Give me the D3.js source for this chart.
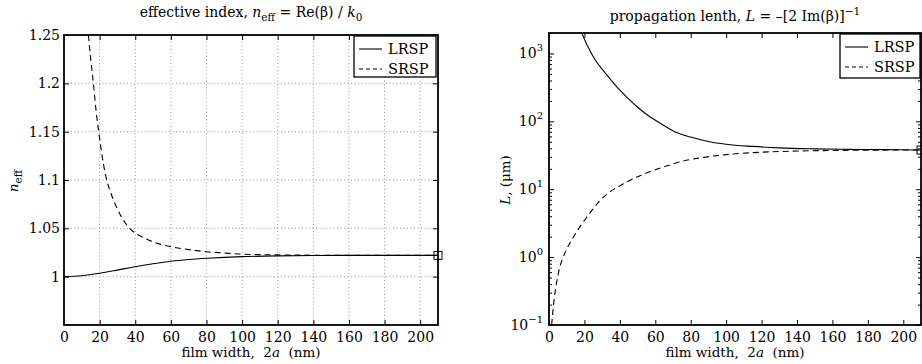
<!DOCTYPE html>
<html><head><meta charset="utf-8">
<script src="https://cdn.jsdelivr.net/npm/d3@7"></script>
<style>
body{margin:0;background:#fff;}
text{font-family:"DejaVu Serif",serif;fill:#000;}
</style></head>
<body><svg id="c" width="922" height="364"></svg>
<script>
// ---- data ----
const xTicks = [0,20,40,60,80,100,120,140,160,180,200];
const nTicks = [1,1.05,1.1,1.15,1.2,1.25];
const nTickLabels = ["1","1.05","1.1","1.15","1.2","1.25"];
const lTicks = [0.1,1,10,100,1000];
const lTickExp = ["\u22121","0","1","2","3"];
const seriesNames = ["LRSP","SRSP"];

// effective index
const xLRSPn = [0,10,20,30,40,50,60,70,80,90,100,120,140,160,180,210];
const nLRSP  = [1.0,1.001,1.0035,1.0068,1.0103,1.0133,1.0159,1.0177,1.019,1.02,1.0207,1.0215,1.0219,1.022,1.022,1.022];
const xSRSPn = [13.7,15,16.5,18,20,22,24,27,30,35,40,45,50,60,70,80,90,100,120,140,160,180,210];
const nSRSP  = [1.25,1.225,1.2,1.172,1.143,1.118,1.1,1.083,1.07,1.054,1.045,1.04,1.036,1.031,1.028,1.0258,1.0245,1.0233,1.0225,1.0222,1.022,1.022,1.022];

// propagation length (um)
const xLRSPl = [18.5,22,26,30,35,40,45,50,56,63,71,80,90,100,115,130,150,170,190,210];
const lLRSP  = [2000,1253,809,586,406,287,213,161,122,92.9,70.5,58.6,50.5,46.0,42.7,40.6,39.3,38.6,38.3,37.8];
const xSRSPl = [1.5,2,3,4,5,6,8,10,13,16,20,24,29,36,42,48,56,65,75,85,100,120,140,160,185,210];
const lSRSP  = [0.1,0.141,0.251,0.38,0.525,0.692,1.0,1.318,1.82,2.455,3.467,4.786,6.918,9.772,12.02,14.45,17.78,21.38,25.7,28.84,32.36,35.08,36.48,37.24,37.67,37.84];

const endMarkN = [210,1.022];
const endMarkL = [210,37.8];

// ---- drawing ----
const svg = d3.select("#c");
const FS = 14;

function panel(opt){
  const g = svg.append("g");
  const {x0,x1,y0,y1,xs,ys} = opt;
  const id = opt.id;
  g.append("clipPath").attr("id",id).append("rect")
    .attr("x",x0).attr("y",y0).attr("width",x1-x0).attr("height",y1-y0);
  if(opt.grid){
    const gg = g.append("g").attr("stroke","#999").attr("stroke-width",1).attr("stroke-dasharray","1,2.5");
    xTicks.filter(t=>t>0).forEach(t=>gg.append("line").attr("x1",xs(t)).attr("x2",xs(t)).attr("y1",y0).attr("y2",y1));
    nTicks.filter(t=>t<1.25).forEach(t=>gg.append("line").attr("x1",x0).attr("x2",x1).attr("y1",ys(t)).attr("y2",ys(t)));
  }
  const xb = d3.axisBottom(xs).tickValues(xTicks).tickSize(-5).tickPadding(7).tickFormat(d3.format("d"));
  const xt = d3.axisTop(xs).tickValues(xTicks).tickSize(-5).tickFormat("");
  g.append("g").attr("transform",`translate(0,${y1})`).call(xb);
  g.append("g").attr("transform",`translate(0,${y0})`).call(xt);
  opt.yAxes(g);
  g.selectAll(".domain").remove();
  g.selectAll(".tick line").attr("stroke","#000").attr("stroke-width",1);
  g.selectAll(".tick text").attr("font-size",FS).attr("font-family","DejaVu Serif").attr("fill","#000");
  const cg = g.append("g").attr("clip-path",`url(#${id})`);
  opt.series.forEach(s=>{
    const line = d3.line().x(d=>xs(d[0])).y(d=>ys(d[1])).curve(d3.curveMonotoneX);
    cg.append("path").datum(d3.zip(s.x,s.y)).attr("d",line)
      .attr("fill","none").attr("stroke","#000").attr("stroke-width",1.1)
      .attr("stroke-dasharray",s.dash||null);
  });
  g.append("rect").attr("x",xs(opt.mark[0])-4).attr("y",ys(opt.mark[1])-4).attr("width",8).attr("height",8)
    .attr("fill","none").attr("stroke","#000").attr("stroke-width",1);
  g.append("rect").attr("x",x0).attr("y",y0).attr("width",x1-x0).attr("height",y1-y0)
    .attr("fill","none").attr("stroke","#000").attr("stroke-width",1.8);
  const L = opt.legend;
  const lg = g.append("g");
  lg.append("rect").attr("x",L.x).attr("y",L.y).attr("width",L.w).attr("height",L.h)
    .attr("fill","#fff").attr("stroke","#000").attr("stroke-width",1.3);
  seriesNames.forEach((nm,i)=>{
    const yy = L.y + 13 + i*20;
    lg.append("line").attr("x1",L.x+5).attr("x2",L.x+28).attr("y1",yy).attr("y2",yy)
      .attr("stroke","#000").attr("stroke-width",1.1).attr("stroke-dasharray",i?"4,3":null);
    lg.append("text").attr("x",L.x+34).attr("y",yy+5).attr("font-size",14.5).text(nm);
  });
  return g;
}

// Left panel
const xsL = d3.scaleLinear().domain([0,210]).range([64,438]);
const ysL = d3.scaleLinear().domain([0.95,1.25]).range([325,35]);
panel({id:"cl",x0:64,x1:438,y0:35,y1:325,xs:xsL,ys:ysL,grid:true,
  yAxes:(g)=>{
    g.append("g").attr("transform","translate(64,0)")
      .call(d3.axisLeft(ysL).tickValues(nTicks).tickSize(-5).tickPadding(4).tickFormat((d,i)=>nTickLabels[i]));
    g.append("g").attr("transform","translate(438,0)")
      .call(d3.axisRight(ysL).tickValues(nTicks).tickSize(-5).tickFormat(""));
  },
  series:[{x:xLRSPn,y:nLRSP},{x:xSRSPn,y:nSRSP,dash:"6,4"}],
  mark:endMarkN,
  legend:{x:354,y:36,w:82,h:41}
});

// Right panel
const xsR = d3.scaleLinear().domain([0,210]).range([549,921]);
const ysR = d3.scaleLog().domain([0.1,2000]).range([325,33]);
const minor = [];
[0.1,1,10,100,1000].forEach(d=>{for(let k=2;k<=9;k++){const v=d*k; if(v<=2000) minor.push(v);}});
panel({id:"cr",x0:549,x1:921,y0:33,y1:325,xs:xsR,ys:ysR,grid:false,
  yAxes:(g)=>{
    g.append("g").attr("transform","translate(549,0)")
      .call(d3.axisLeft(ysR).tickValues(lTicks).tickSize(-5).tickFormat(""));
    g.append("g").attr("transform","translate(549,0)")
      .call(d3.axisLeft(ysR).tickValues(minor).tickSize(-3).tickFormat(""));
    g.append("g").attr("transform","translate(921,0)")
      .call(d3.axisRight(ysR).tickValues(lTicks).tickSize(-5).tickFormat(""));
    g.append("g").attr("transform","translate(921,0)")
      .call(d3.axisRight(ysR).tickValues(minor).tickSize(-3).tickFormat(""));
    lTicks.forEach((t,i)=>{
      const tx = g.append("text").attr("x",543).attr("y",ysR(t)+5).attr("text-anchor","end").attr("font-size",FS);
      tx.append("tspan").text("10");
      tx.append("tspan").attr("dy",-7).attr("font-size",10).text(lTickExp[i]);
    });
  },
  series:[{x:xLRSPl,y:lLRSP},{x:xSRSPl,y:lSRSP,dash:"6,4"}],
  mark:endMarkL,
  legend:{x:840,y:34,w:80,h:44}
});

// titles
const t1 = svg.append("text").attr("x",251).attr("y",17).attr("text-anchor","middle").attr("font-size",14);
t1.append("tspan").text("effective index, ");
t1.append("tspan").attr("font-style","italic").text("n");
t1.append("tspan").attr("dy",4).attr("font-size",10.5).text("eff");
t1.append("tspan").attr("dy",-4).text(" = Re(\u03b2) / ");
t1.append("tspan").attr("font-style","italic").text("k");
t1.append("tspan").attr("dy",4).attr("font-size",10.5).text("0");

const t2 = svg.append("text").attr("x",735).attr("y",21).attr("text-anchor","middle").attr("font-size",14);
t2.append("tspan").text("propagation lenth, ");
t2.append("tspan").attr("font-style","italic").text("L");
t2.append("tspan").text(" = \u2013[2 Im(\u03b2)]");
t2.append("tspan").attr("dy",-6).attr("font-size",10.5).text("\u22121");

// x labels
[251,735].forEach(cx=>{
  const t = svg.append("text").attr("x",cx).attr("y",357).attr("text-anchor","middle").attr("font-size",13.5);
  t.append("tspan").text("film width,\u00a0\u00a02");
  t.append("tspan").attr("font-style","italic").text("a");
  t.append("tspan").text("\u00a0\u00a0(nm)");
});

// y labels
const yl1 = svg.append("text").attr("transform","translate(18,181) rotate(-90)").attr("text-anchor","middle").attr("font-size",13.5);
yl1.append("tspan").attr("font-style","italic").text("n");
yl1.append("tspan").attr("dy",4).attr("font-size",10.5).text("eff");

const yl2 = svg.append("text").attr("transform","translate(510,180) rotate(-90)").attr("text-anchor","middle").attr("font-size",13.5);
yl2.append("tspan").attr("font-style","italic").text("L");
yl2.append("tspan").text(", (\u03bcm)");
</script></body></html>
